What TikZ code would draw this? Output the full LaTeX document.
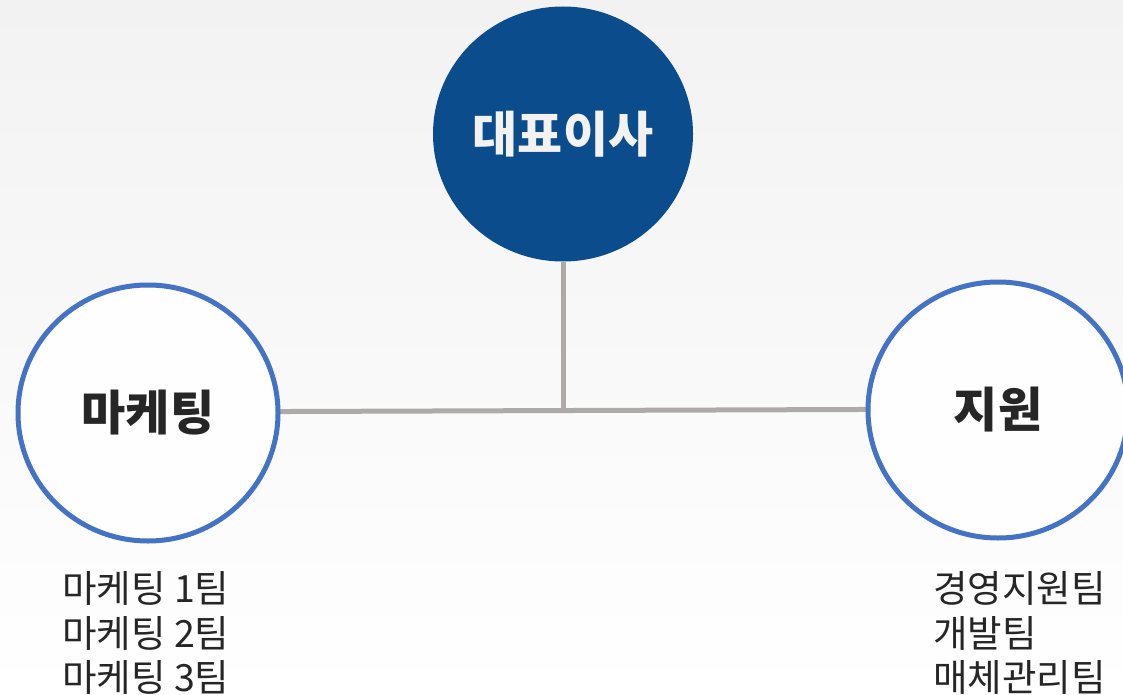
\documentclass[tikz,border=0pt]{standalone}
\usepackage{fontspec}
\newfontfamily\kr{Noto Sans CJK KR}
\usetikzlibrary{shapes.geometric}
\definecolor{topblue}{HTML}{0B4D8C}
\definecolor{ringblue}{HTML}{4472C4}
\definecolor{linkgray}{HTML}{AEAAAA}
\definecolor{txtdark}{HTML}{262626}
\definecolor{txtlight}{HTML}{F2F2F2}
\definecolor{bgtop}{HTML}{F2F2F2}
\tikzset{
  ceo/.style={ellipse, fill=topblue, draw=none, minimum width=260pt, minimum height=255pt, inner sep=0pt,
    text=txtlight, font=\kr\bfseries\fontsize{49}{56}\selectfont},
  dept/.style={ellipse, draw=ringblue, line width=5pt, fill=white!50!bgtop!20, minimum width=260pt, minimum height=256pt, inner sep=0pt,
    text=txtdark, font=\kr\bfseries\fontsize{48}{56}\selectfont},
  link/.style={draw=linkgray, line width=5pt},
  teamlist/.style={anchor=west, align=left, inner sep=0pt, text=txtdark, font=\kr\fontsize{37.5}{44.5}\selectfont}
}
\begin{document}
\begin{tikzpicture}[x=1pt,y=-1pt]
  \shade[top color=bgtop, bottom color=white] (0,0) rectangle (1123,695);
  \useasboundingbox (0,0) rectangle (1123,695);
  \node[ceo] (ceo) at (563,134) {대표이사};
  \coordinate (junc) at (563,410.5);
  \draw[link] (148,412) -- (998,409);
  \draw[link] (ceo.south) -- (junc);
  \node[dept] (mkt) at (148,413) {마케팅};
  \node[dept] (sup) at (998,410) {지원};
  \node[teamlist] (mktteams) at (62,633) {마케팅 1팀\\마케팅 2팀\\마케팅 3팀};
  \node[teamlist] (supteams) at (933,633) {경영지원팀\\개발팀\\매체관리팀};
\end{tikzpicture}
\end{document}
